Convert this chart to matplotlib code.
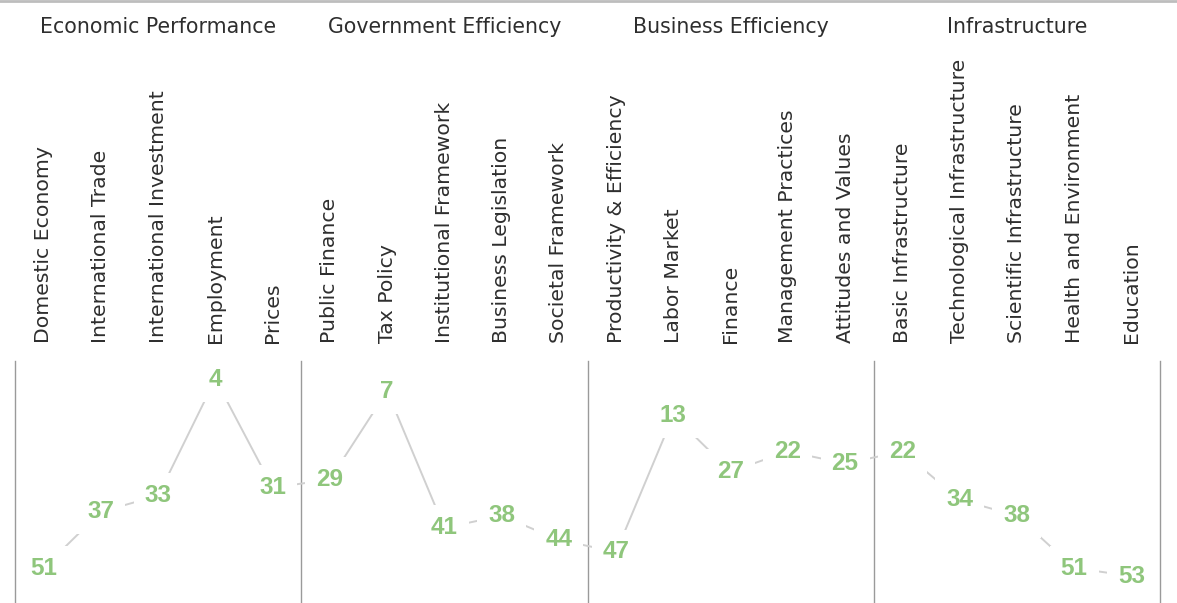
import matplotlib
matplotlib.use("Agg")
import matplotlib.pyplot as plt
import matplotlib.transforms as mtransforms
from matplotlib.lines import Line2D

# Sub-factor names, grouped in blocks of five under each factor
categories = [
    "Domestic Economy", "International Trade", "International Investment", "Employment", "Prices",
    "Public Finance", "Tax Policy", "Institutional Framework", "Business Legislation", "Societal Framework",
    "Productivity & Efficiency", "Labor Market", "Finance", "Management Practices", "Attitudes and Values",
    "Basic Infrastructure", "Technological Infrastructure", "Scientific Infrastructure",
    "Health and Environment", "Education",
]
ranks = [51, 37, 33, 4, 31, 29, 7, 41, 38, 44, 47, 13, 27, 22, 25, 22, 34, 38, 51, 53]
groups = ["Economic Performance", "Government Efficiency", "Business Efficiency", "Infrastructure"]
group_size = 5

LABEL_FONT = "DejaVu Sans"
NUM_COLOR = "#8fc67c"
LINE_COLOR = "#d0d0d0"
SEP_COLOR = "#9a9a9a"
TEXT_COLOR = "#2e2e2e"

fig = plt.figure(figsize=(11.77, 6.03), dpi=100)
ax = fig.add_axes([15 / 1177, 0, (1160 - 15) / 1177, (603 - 361) / 603])

x = list(range(len(categories)))
ax.plot(x, ranks, color=LINE_COLOR, lw=1.4, zorder=1, solid_capstyle="butt")

for xi, r in zip(x, ranks):
    ax.text(xi, r, str(r), ha="center", va="center", fontsize=17.5, fontweight="bold",
            family="Liberation Sans", color=NUM_COLOR, zorder=3,
            bbox=dict(boxstyle="square,pad=0.45", fc="white", ec="none"))

# group separators
for b in range(len(groups) + 1):
    ax.axvline(b * group_size - 0.5, color=SEP_COLOR, lw=1.0, zorder=0, clip_on=False)

ax.set_xlim(-0.5, len(categories) - 0.5)
ax.set_ylim(59.7, -0.5)
ax.set_yticks([])
ax.set_xticks(x)
ax.set_xticklabels(categories, rotation=90, family=LABEL_FONT, fontsize=14.7, color=TEXT_COLOR)
ax.xaxis.tick_top()
ax.tick_params(axis="x", length=0, pad=13)
for s in ax.spines.values():
    s.set_visible(False)

# factor headers
trans = mtransforms.blended_transform_factory(ax.transData, fig.transFigure)
for gi, g in enumerate(groups):
    ax.text(gi * group_size + 2, 1 - 27 / 603, g, ha="center", va="center", transform=trans,
            family=LABEL_FONT, fontsize=14.8, color=TEXT_COLOR)

# thin border on top of the picture
fig.add_artist(Line2D([0, 1], [0.998, 0.998], transform=fig.transFigure, color="#bdbdbd", lw=2))

fig.savefig("out.png", dpi=100)
